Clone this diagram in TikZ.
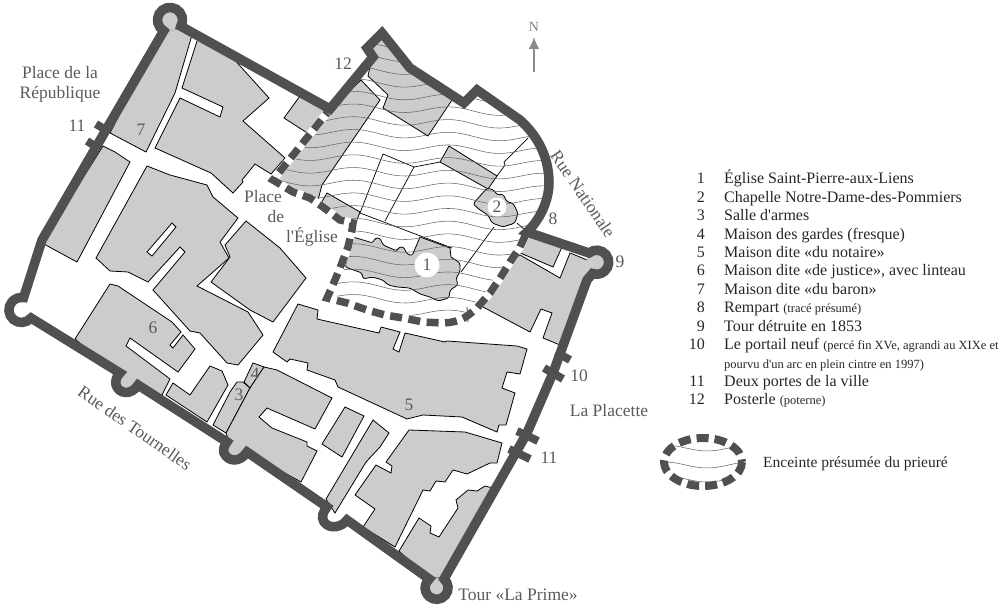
\documentclass[tikz,border=0pt]{standalone}
\usepackage{fontspec}
\newfontfamily\mapfont{Liberation Serif}
\usetikzlibrary{positioning, arrows.meta}
\definecolor{wallgray}{HTML}{505050}
\definecolor{housegray}{HTML}{CCCCCC}
\definecolor{inkgray}{HTML}{5A5A5A}
\newcommand{\smalltxt}[1]{{\fontsize{12.5}{14}\selectfont #1}}
\newcommand{\prioryline}{(525,236) -- (520,247) -- (510,262) -- (502,275) -- (490,293) -- (477,308) .. controls (470,314) and (465,318) .. (460,320) .. controls (450,323) and (445,323) .. (442,323) -- (423,322) -- (403,318) -- (385,315) -- (367,310) -- (347,303) -- (327,298) -- (332,287) -- (340,268) -- (348,247) -- (352,230) -- (353,223) -- (340,220) -- (323,207) -- (310,198) -- (293,192) -- (273,180) -- (327,113)}
\begin{document}
\begin{tikzpicture}[
	x=1pt, y=-1pt,
	house/.style = {fill=housegray, draw=black, line width=0.8pt, line join=miter},
	lumpy/.style = {house, rounded corners=2.5pt},
	plainline/.style = {draw=black, line width=0.7pt},
	wallline/.style = {draw=wallgray, line width=9.5pt, line join=miter},
	gatebar/.style = {draw=wallgray, line width=8pt},
	priorydash/.style = {draw=wallgray, line width=7.5pt, dash pattern=on 12pt off 6.5pt},
	priorybase/.style = {draw=white, line width=8pt},
	wave/.style = {draw=black!60, line width=0.55pt},
	maptext/.style = {font=\mapfont\fontsize{17.5}{20}\selectfont, text=inkgray, inner sep=0pt},
	legtext/.style = {font=\mapfont\fontsize{16}{18}\selectfont, text=black!85, inner sep=0pt, anchor=base west},
	legnum/.style = {font=\mapfont\fontsize{16}{18}\selectfont, text=black!85, inner sep=0pt, anchor=base east},
	]

	\useasboundingbox (0,0) rectangle (1008,609);

	% houses
	\draw[house] (161,33) -- (183,27) -- (192,35) -- (175,93) -- (146,152) -- (110,133) -- cycle;
	\draw[house] (198,38) -- (182,88) -- (223,107) -- (220,117) -- (180,98) -- (155,148) -- (211,173) -- (233,193) -- (243,182) -- (242,180) -- (255,164) -- (271,174) -- (285,158) -- (243,121) -- (269,98) -- (232,57) -- cycle;
	\draw[house] (103,146) -- (115,152) -- (130,162) -- (77,262) -- (42,243) -- cycle;
	\draw[house] (147,166) -- (170,175) -- (207,185) -- (213,197) -- (238,218) -- (220,242) -- (229,258) -- (197,286) -- (248,312) -- (263,335) -- (238,365) -- (227,363) -- (200,333) -- (190,331) -- (153,290) -- (185,252) -- (180,247) -- (148,282) -- (128,272) -- (110,271) -- (96,258) -- cycle;
	\draw[house, fill=white] (172,223) -- (176,227) -- (152,256) -- (147,252) -- cycle;
	\draw[house] (246,221) -- (280,248) -- (306,278) -- (273,322) -- (250,310) -- (211,282) -- (230,257) -- (225,245) -- cycle;
	\draw[house] (110,284) -- (118,286) -- (172,322) -- (181,332) -- (170,345) -- (173,348) -- (183,335) -- (195,349) -- (178,372) -- (130,338) -- (126,346) -- (170,379) -- (162,395) -- (134,387) -- (118,375) -- (75,339) -- cycle;
	\draw[house] (173,383) -- (190,395) -- (210,366) -- (222,371) -- (228,385) -- (207,422) -- (166,395) -- cycle;
	\draw[house] (237,382) -- (243,382) -- (250,388) -- (226,433) -- (213,425) -- (230,392) -- cycle;
	\draw[house] (253,363) -- (264,367) -- (250,388) -- (244,382) -- cycle;
	\draw[house] (264,367) -- (277,370) -- (332,398) -- (315,429) -- (267,408) -- (259,417) -- (272,428) -- (307,442) -- (307,446) -- (317,451) -- (301,482) -- (247,452) -- (233,452) -- (226,433) -- (250,388) -- cycle;
	\draw[house] (298,304) -- (318,310) -- (317,319) -- (379,333) -- (381,327) -- (400,332) -- (393,349) -- (399,352) -- (405,333) -- (445,342) -- (447,341) -- (517,346) -- (527,349) -- (520,374) -- (507,372) -- (502,388) -- (515,393) -- (506,425) -- (499,425) -- (497,432) -- (462,417) -- (423,415) -- (407,419) -- (338,387) -- (335,380) -- (307,370) -- (308,363) -- (290,359) -- (287,362) -- (273,352) -- cycle;
	\draw[house] (345,407) -- (364,416) -- (342,457) -- (322,444) -- cycle;
	\draw[house] (373,420) -- (389,433) -- (380,447) -- (366,462) -- (335,513) -- (326,499) -- cycle;
	\draw[house] (409,430) -- (465,432) -- (502,443) -- (497,463) -- (490,463) -- (467,474) -- (453,470) -- (445,482) -- (436,481) -- (430,491) -- (423,490) -- (395,547) -- (363,527) -- (375,509) -- (355,495) -- (376,465) -- (391,473) -- (392,466) -- (386,462) -- cycle;
	\draw[house] (419,518) -- (431,526) -- (430,533) -- (439,537) -- (458,508) -- (456,500) -- (468,490) -- (477,491) -- (485,486) -- (493,488) -- (446,578) -- (428,578) -- (399,551) -- cycle;
	\draw[house] (520,255) -- (560,278) -- (570,253) -- (592,262) -- (590,272) -- (560,345) -- (543,338) -- (552,313) -- (541,309) -- (530,332) -- (483,307) -- (490,293) -- (502,275) -- (510,262) -- cycle;
	\draw[house] (525,234) -- (562,247) -- (553,267) -- (518,252) -- cycle;
	\draw[house] (300,96) -- (284,118) -- (312,136) -- (330,108) -- cycle;

	% towers
	\fill[housegray] (170,20) circle (11);
	\fill[housegray] (125,382) circle (8);
	\fill[housegray] (233,452) circle (8);
	\fill[housegray] (437,588) circle (10);
	\fill[housegray] (597,262) circle (11);

	% priory
	\draw[house] (330,110) -- (361,80) -- (380,100) -- (322,185) -- (318,200) -- (293,192) -- (273,180) -- cycle;
	\draw[house] (372,57) -- (368,48) -- (382,36) -- (410,68) -- (452,100) -- (428,136) -- (383,108) -- (388,95) -- (368,76) -- cycle;
	\draw[house] (449,146) -- (497,176) -- (488,189) -- (440,162) -- cycle;
	\draw[house] (327,193) -- (360,212) -- (355,225) -- (340,220) -- (320,205) -- cycle;
	\draw[plainline] (360,213) -- (383,154) -- (414,167) -- (385,221);
	\draw[plainline] (414,167) -- (440,162);
	\draw[plainline] (360,213) -- (452,248);
	\draw[plainline] (497,176) -- (505,165) -- (504,162) -- (528,138);
	\draw[plainline] (494,227) -- (461,272);
	\draw[plainline] (517,223) -- (527,232);
	\draw[plainline] (467,307) -- (468,322);
	\draw[plainline] (462,315) -- (472,317);

	% church and chapel
	\draw[lumpy] (353,237) -- (373,243) -- (375,238) -- (380,238) -- (383,245) -- (397,251) -- (399,247) -- (404,247) -- (406,253) -- (412,256) [sharp corners] -- (420,237) -- (450,248) -- (451,257) [rounded corners=2.5pt] -- (460,263) -- (460,272) -- (456,278) -- (458,285) -- (450,290) -- (449,298) -- (438,301) -- (430,297) -- (420,294) -- (410,288) -- (397,287) -- (388,285) -- (383,280) -- (372,277) -- (363,279) -- (362,273) -- (345,267) -- cycle;
	\draw[lumpy] (473,204) -- (487,188) -- (494,190) -- (497,195) -- (503,194) -- (507,202) -- (513,203) -- (518,213) -- (515,223) -- (503,227) -- (492,223) -- (488,215) -- (480,210) -- cycle;

	% waves
	\begin{scope}
		\clip \prioryline -- (373,57) -- (367,48) -- (382,33) -- (410,68) -- (464,103) -- (477,90) -- (520,120) .. controls (540,138) and (549,160) .. (549,183) .. controls (549,200) and (540,220) .. (527,232) -- cycle;
		\foreach \wy in {20,32.7,...,340}
			\draw[wave] plot[domain=265:560, samples=70, smooth] (\x,{\wy+0.03*(\x-400)+3.5*sin(3.8*\x)});
	\end{scope}

	\draw[priorybase] \prioryline;
	\draw[priorydash] \prioryline;

	% wall
	\draw[wallline] (527,232) -- (589,253) arc[start angle=230, end angle=470, radius=12] -- (587,280) -- (553,373) -- (527,433) -- (444,579)
		arc[start angle=-50, end angle=230, radius=11.5] -- (347,520)
		.. controls (342,527) and (330,530) .. (324,522) .. controls (321,517) and (323,512) .. (327,507)
		-- (247,452) .. controls (240,463) and (228,462) .. (224,453) .. controls (223,449) and (224,446) .. (227,442)
		-- (138,385) .. controls (131,396) and (119,394) .. (116,385) .. controls (115,380) and (117,376) .. (120,373)
		-- (31,318) arc[start angle=40, end angle=280, radius=12.5] -- (42,240) -- (163.75,30.8)
		arc[start angle=120, end angle=390, radius=12.5] -- (330,109) -- (373,57) -- (367,48) -- (382,33) -- (410,68) -- (464,103) -- (477,90) -- (520,120)
		.. controls (540,138) and (549,160) .. (549,183) .. controls (549,200) and (540,220) .. (527,232) -- cycle;

	% gates
	\draw[gatebar] (96,124) -- (106,130);
	\draw[gatebar] (87,141) -- (98,148);
	\draw[gatebar] (544,368) -- (563,379);
	\draw[gatebar] (556,352) -- (570,360);
	\draw[gatebar] (517,431) -- (538,441);
	\draw[gatebar] (509,449) -- (530,459);

	% north
	\node[font=\mapfont\fontsize{14}{16}\selectfont, text=black!50, inner sep=0pt] (north) at (534,27) {N};
	\coordinate (northfoot) at (534,72);
	\draw[draw=black!45, line width=2pt, -{Latex[length=12pt, width=11pt]}] (northfoot) -- (534,37);

	% numbers on the plan
	\node[circle, fill=white, minimum size=25pt, inner sep=0pt, font=\mapfont\fontsize{17.5}{20}\selectfont, text=inkgray] (churchnum) at (427,265) {1};
	\node[circle, fill=white, minimum size=19pt, inner sep=0pt, font=\mapfont\fontsize{17.5}{20}\selectfont, text=inkgray] (chapelnum) at (497,207) {2};
	\node[maptext] (num3) at (239,395) {3};
	\node[maptext] (num4) at (255,374) {4};
	\node[maptext] (num5) at (409,405) {5};
	\node[maptext] (num6) at (153,328) {6};
	\node[maptext] (num7) at (141,130) {7};
	\node[maptext] (num8) at (553,219) {8};
	\node[maptext] (num9) at (620,262) {9};
	\node[maptext] (num10) at (579,376) {10};
	\node[maptext] (numA) at (77,126) {11};
	\node[maptext] (numB) at (549,458) {11};
	\node[maptext] (num12) at (343,64) {12};

	% names on the plan
	\node[maptext] (republique) at (60,84) [align=center] {Place de la\\République};
	\node[maptext] (place) at (263,197) {Place};
	\node[maptext] (placede) at (276,217) {de};
	\node[maptext] (eglise) at (312,237) {l'Église};
	\node[maptext, rotate=-55.5] (nationale) at (583,194) {Rue Nationale};
	\node[maptext, rotate=-35] (tournelles) at (135,428) {Rue des Tournelles};
	\node[maptext] (placette) at (609,411) {La Placette};
	\node[maptext] (prime) at (518,595) {Tour «La Prime»};

	% legend
	\foreach \n/\ly/\txt in {1/184/Église Saint-Pierre-aux-Liens,
		2/202.4/Chapelle Notre-Dame-des-Pommiers,
		3/220.8/Salle d'armes,
		4/239.2/Maison des gardes (fresque),
		5/257.6/Maison dite «du notaire»,
		6/276/{Maison dite «de justice», avec linteau},
		7/294.4/Maison dite «du baron»,
		8/312.8/Rempart \smalltxt{(tracé présumé)},
		9/331.2/Tour détruite en 1853,
		10/349.6/{Le portail neuf \smalltxt{(percé fin XVe, agrandi au XIXe et}},
		11/386.4/Deux portes de la ville,
		12/404.8/Posterle \smalltxt{(poterne)}}{
		\node[legnum] (legnum\n) at (705,\ly) {\n};
		\node[legtext] (legtxt\n) at (724,\ly) {\txt};
	}
	\node[legtext] (legtxtmore) at (724,368) {\smalltxt{pourvu d'un arc en plein cintre en 1997)}};

	\begin{scope}
		\clip (703,462) ellipse [x radius=39, y radius=24];
		\foreach \wy in {448,465,479}
			\draw[wave] plot[domain=660:745, samples=20, smooth] (\x,{\wy+3*sin(4.2*\x)});
	\end{scope}
	\draw[priorydash, line width=8pt, dash pattern=on 12pt off 6pt] (703,462) ellipse [x radius=39, y radius=24];
	\node[legtext, font=\mapfont\fontsize{15.5}{18}\selectfont] (legenclos) at (763,467) {Enceinte présumée du prieuré};

\end{tikzpicture}
\end{document}
